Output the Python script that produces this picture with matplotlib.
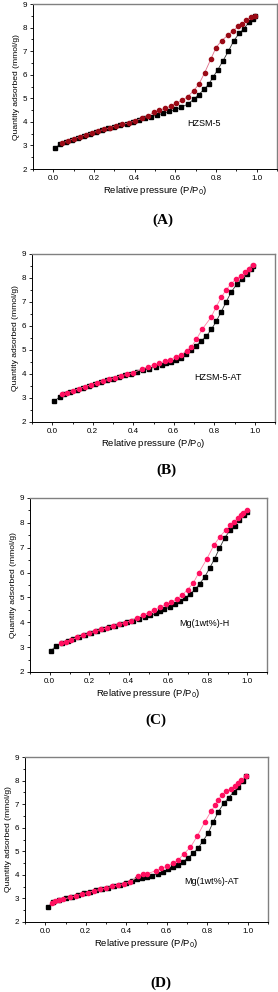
import numpy as np
import matplotlib.pyplot as plt
from matplotlib.ticker import MultipleLocator

plt.rcParams['font.family'] = ['Liberation Sans', 'DejaVu Sans']

# ---- data: adsorption (black squares) and desorption (red circles) ----
low_x = [0.06, 0.09, 0.12, 0.15, 0.18, 0.21, 0.24, 0.27, 0.30, 0.33, 0.36, 0.39, 0.42, 0.45, 0.48, 0.51, 0.54]

# (A) HZSM-5
a_ads_x = [0.007, 0.033] + low_x + [0.57, 0.60, 0.63, 0.66, 0.69, 0.714, 0.742, 0.764, 0.785, 0.808, 0.835, 0.861, 0.888, 0.914, 0.937, 0.962, 0.982, 0.992]
a_ads_y = [2.88, 3.05, 3.15, 3.25, 3.33, 3.42, 3.50, 3.58, 3.66, 3.73, 3.80, 3.87, 3.93, 4.00, 4.08, 4.15, 4.22, 4.29, 4.36,
           4.44, 4.53, 4.62, 4.75, 4.95, 5.15, 5.38, 5.60, 5.89, 6.20, 6.60, 7.00, 7.45, 7.75, 7.95, 8.22, 8.36, 8.50]
a_des_x = [0.045, 0.07, 0.10, 0.13, 0.16, 0.19, 0.22, 0.25, 0.28, 0.31, 0.34, 0.37, 0.40, 0.438, 0.466, 0.494, 0.522, 0.55, 0.577,
           0.605, 0.633, 0.661, 0.69, 0.716, 0.744, 0.775, 0.80, 0.828, 0.858, 0.883, 0.91, 0.93, 0.95, 0.97, 0.99]
a_des_y = [3.10, 3.19, 3.28, 3.36, 3.45, 3.53, 3.61, 3.68, 3.76, 3.83, 3.89, 3.96, 4.03, 4.16, 4.25, 4.41, 4.50, 4.57, 4.67,
           4.79, 4.91, 5.07, 5.32, 5.60, 6.08, 6.67, 7.15, 7.45, 7.67, 7.86, 8.05, 8.15, 8.32, 8.43, 8.50]

# (B) HZSM-5-AT
b_ads_x = [0.01, 0.038] + low_x + [0.56, 0.585, 0.61, 0.635, 0.66, 0.687, 0.709, 0.735, 0.761, 0.786, 0.81, 0.835, 0.859, 0.885, 0.912, 0.935, 0.96, 0.982, 0.99]
b_ads_y = [2.86, 3.06, 3.15, 3.25, 3.34, 3.43, 3.51, 3.59, 3.67, 3.74, 3.81, 3.88, 3.94, 4.01, 4.08, 4.15, 4.22, 4.30, 4.37,
           4.45, 4.51, 4.58, 4.68, 4.82, 4.98, 5.17, 5.37, 5.58, 5.86, 6.20, 6.60, 7.01, 7.43, 7.75, 7.96, 8.18, 8.37, 8.50]
b_des_x = [0.05, 0.075, 0.10, 0.13, 0.16, 0.19, 0.22, 0.25, 0.28, 0.31, 0.34, 0.37, 0.40, 0.443, 0.475, 0.50, 0.529, 0.556,
           0.583, 0.61, 0.637, 0.664, 0.686, 0.712, 0.741, 0.784, 0.81, 0.835, 0.859, 0.884, 0.908, 0.933, 0.954, 0.974, 0.99]
b_des_y = [3.15, 3.22, 3.29, 3.38, 3.47, 3.55, 3.63, 3.71, 3.78, 3.85, 3.92, 3.99, 4.06, 4.20, 4.30, 4.37, 4.44, 4.53,
           4.60, 4.72, 4.80, 4.96, 5.12, 5.45, 5.87, 6.36, 6.81, 7.20, 7.51, 7.76, 7.96, 8.10, 8.24, 8.37, 8.55]

# (C) Mg(1wt%)-H
c_ads_x = [0.007, 0.032] + low_x + [0.557, 0.58, 0.608, 0.634, 0.66, 0.685, 0.71, 0.736, 0.76, 0.785, 0.809, 0.835, 0.859, 0.886, 0.913, 0.937, 0.96, 0.983, 0.997]
c_ads_y = [2.86, 3.05, 3.15, 3.25, 3.33, 3.42, 3.50, 3.58, 3.66, 3.73, 3.80, 3.87, 3.93, 4.00, 4.07, 4.14, 4.21, 4.28, 4.36,
           4.44, 4.52, 4.62, 4.73, 4.84, 4.97, 5.13, 5.32, 5.56, 5.83, 6.17, 6.56, 6.97, 7.40, 7.70, 7.89, 8.13, 8.30, 8.45]
c_des_x = [0.055, 0.08, 0.11, 0.14, 0.17, 0.20, 0.23, 0.26, 0.29, 0.32, 0.35, 0.38, 0.41, 0.443, 0.472, 0.50, 0.528, 0.557, 0.588,
           0.615, 0.644, 0.671, 0.698, 0.727, 0.755, 0.796, 0.831, 0.862, 0.89, 0.915, 0.935, 0.952, 0.966, 0.98, 0.997]
c_des_y = [3.15, 3.22, 3.30, 3.39, 3.47, 3.56, 3.64, 3.71, 3.78, 3.85, 3.92, 3.99, 4.06, 4.19, 4.30, 4.39, 4.50, 4.61, 4.72,
           4.81, 4.94, 5.10, 5.31, 5.58, 6.00, 6.56, 7.10, 7.45, 7.70, 7.90, 8.05, 8.20, 8.30, 8.40, 8.50]

# (D) Mg(1wt%)-AT
d_ads_x = [0.013, 0.04, 0.07, 0.10, 0.13, 0.16, 0.19, 0.22, 0.25, 0.28, 0.31, 0.34, 0.37, 0.40, 0.43, 0.455, 0.48, 0.504, 0.528,
           0.555, 0.58, 0.607, 0.631, 0.657, 0.681, 0.706, 0.73, 0.756, 0.78, 0.805, 0.829, 0.854, 0.881, 0.906, 0.93, 0.954, 0.979, 0.99]
d_ads_y = [2.65, 2.85, 2.93, 3.00, 3.07, 3.14, 3.21, 3.28, 3.34, 3.40, 3.46, 3.53, 3.59, 3.65, 3.73, 3.82, 3.88, 3.92, 3.97,
           4.05, 4.13, 4.23, 4.32, 4.43, 4.56, 4.73, 4.91, 5.15, 5.45, 5.78, 6.23, 6.66, 7.03, 7.28, 7.51, 7.72, 7.98, 8.18]
d_des_x = [0.033, 0.05, 0.07, 0.09, 0.12, 0.15, 0.18, 0.21, 0.24, 0.27, 0.30, 0.33, 0.36, 0.39, 0.42, 0.46, 0.483, 0.504,
           0.545, 0.574, 0.602, 0.629, 0.657, 0.683, 0.717, 0.751, 0.789, 0.818, 0.84, 0.854, 0.873, 0.894, 0.915, 0.938, 0.951, 0.967, 0.99]
d_des_y = [2.81, 2.87, 2.92, 2.97, 3.04, 3.11, 3.18, 3.25, 3.32, 3.38, 3.44, 3.51, 3.57, 3.63, 3.70, 3.95, 4.02, 4.05,
           4.17, 4.27, 4.37, 4.49, 4.63, 4.88, 5.17, 5.65, 6.26, 6.69, 6.97, 7.18, 7.40, 7.54, 7.64, 7.77, 7.90, 8.02, 8.18]

panels = [
    ("HZSM-5", "(A)", a_ads_x, a_ads_y, a_des_x, a_des_y, "#9a0a16", "#e0708a", (0.66, 3.95)),
    ("HZSM-5-AT", "(B)", b_ads_x, b_ads_y, b_des_x, b_des_y, "#ff1060", "#ff80a8", (0.70, 3.84)),
    ("Mg(1wt%)-H", "(C)", c_ads_x, c_ads_y, c_des_x, c_des_y, "#ff1060", "#ff80a8", (0.654, 3.96)),
    ("Mg(1wt%)-AT", "(D)", d_ads_x, d_ads_y, d_des_x, d_des_y, "#ff1060", "#ff80a8", (0.686, 3.70)),
]

# axes boxes in pixels: left, right, top, bottom ; label centre x, y
boxes = [(33, 277, 4, 169, 163, 220),
         (32, 275, 254, 422, 166, 470),
         (30, 267, 498, 672, 156, 720),
         (25, 268, 757, 922, 161, 983)]

W, H = 278, 992
fig = plt.figure(figsize=(W / 100, H / 100), dpi=100)

for (name, tag, ax_x, ax_y, dx, dy, mc, lc, tpos), (l, r, t, b, lx, ly) in zip(panels, boxes):
    ax = fig.add_axes([l / W, 1 - b / H, (r - l) / W, (b - t) / H])
    ax.plot(ax_x, ax_y, color='#333333', lw=0.6, marker='s', ms=2.8, mfc='black', mec='black')
    ax.plot(dx, dy, color=lc, lw=0.6, marker='o', ms=3.0, mfc=mc, mec=mc)
    ax.set_xlim(-0.1, 1.1)
    ax.set_ylim(2, 9)
    ax.xaxis.set_major_locator(MultipleLocator(0.2))
    ax.xaxis.set_minor_locator(MultipleLocator(0.1))
    ax.yaxis.set_major_locator(MultipleLocator(1))
    ax.yaxis.set_minor_locator(MultipleLocator(0.5))
    ax.tick_params(which='both', direction='out', labelsize=5.8, width=0.6, pad=1.5)
    ax.tick_params(which='major', length=2.5)
    ax.tick_params(which='minor', length=1.5)
    for s in ['top', 'right']:
        ax.spines[s].set_color('#808080')
        ax.spines[s].set_linewidth(1.0)
    for s in ['left', 'bottom']:
        ax.spines[s].set_linewidth(0.7)
    ax.set_xlabel('Relative pressure (P/P$_0$)', fontsize=6.8, labelpad=1.5)
    ax.set_ylabel('Quantity adsorbed (mmol/g)', fontsize=6.1, labelpad=2)
    ax.text(tpos[0], tpos[1], name, fontsize=6.5, va='center', ha='left')
    fig.text(lx / W, 1 - ly / H, tag, fontsize=11, fontweight='bold',
             family=['Liberation Serif', 'DejaVu Serif'], ha='center', va='center')

fig.savefig('out.png', dpi=100)
